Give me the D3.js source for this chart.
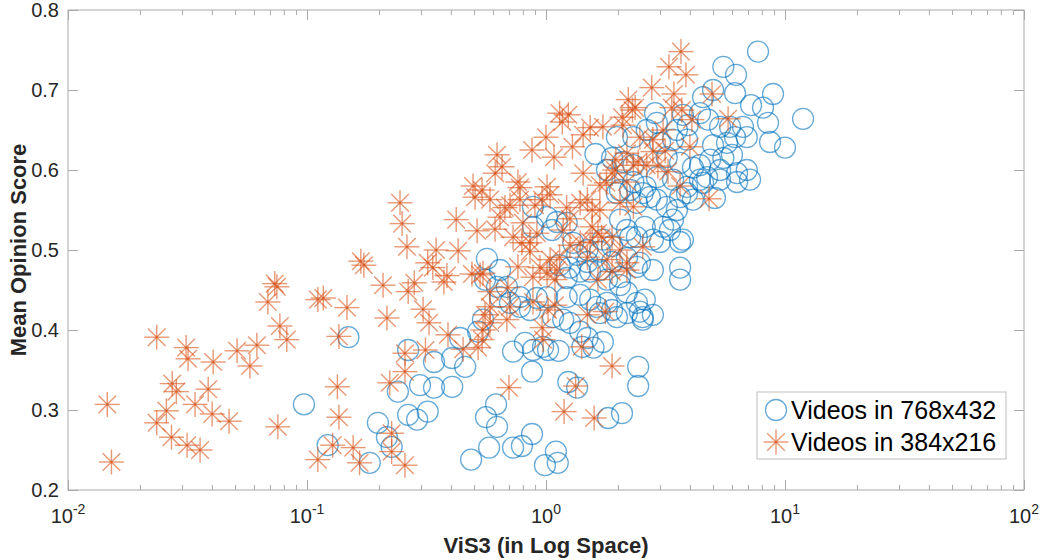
<!doctype html>
<html>
<head>
<meta charset="utf-8">
<title>ViS3 vs Mean Opinion Score</title>
<script src="https://cdnjs.cloudflare.com/ajax/libs/d3/7.8.5/d3.min.js"></script>
<style>
  body { margin: 0; background: #fff; }
  text { font-family: "Liberation Sans", Arial, Helvetica, sans-serif; fill: #262626; }
</style>
</head>
<body>
<svg id="chart" width="1048" height="560"></svg>
<script>
// [ViS3, MOS]
var videos768 = [
  [0.149,0.391],[0.0971,0.307],[0.122,0.256],
  [0.265,0.375],[0.340,0.360],[0.405,0.365],[0.459,0.354],[0.437,0.390],[0.240,0.323],[0.297,0.331],
  [0.340,0.328],[0.405,0.329],[0.265,0.294],[0.289,0.288],[0.320,0.298],[0.198,0.284],[0.216,0.266],
  [0.226,0.254],[0.183,0.234],[0.486,0.238],
  [1.98,0.641],[2.32,0.641],[1.61,0.620],[1.89,0.615],[2.10,0.610],[1.80,0.600],[2.32,0.606],[2.32,0.585],[2.04,0.575],
  [7.71,0.748],[5.52,0.729],[6.24,0.719],[8.91,0.695],[5.00,0.700],[6.18,0.696],[7.21,0.681],[8.09,0.678],
  [11.9,0.664],[8.49,0.659],[10.0,0.628],[8.66,0.635],[4.54,0.691],[4.41,0.671],[4.77,0.663],[5.35,0.654],
  [5.89,0.654],[6.67,0.654],[6.92,0.641],[6.18,0.641],[5.00,0.631],[5.72,0.634],[6.00,0.619],[5.52,0.615],
  [4.86,0.613],[4.41,0.606],[5.35,0.600],[6.30,0.596],[6.92,0.600],[4.12,0.603],[4.72,0.591],[3.92,0.656],
  [3.74,0.669],[3.53,0.650],[2.86,0.671],[2.91,0.659],[3.00,0.634],[3.20,0.616],[2.91,0.591],[3.89,0.638],
  [3.40,0.638],[3.64,0.609],[3.40,0.588],[3.89,0.579],[4.41,0.588],[2.64,0.650],[2.61,0.579],
  [0.566,0.489],[0.642,0.475],[0.556,0.463],[0.624,0.454],[0.642,0.441],[0.686,0.454],[0.778,0.441],
  [0.882,0.554],[1.01,0.541],[1.11,0.535],[1.22,0.534],[1.06,0.525],[0.882,0.529],[1.14,0.481],[1.26,0.478],
  [1.39,0.473],[1.53,0.473],[1.49,0.485],[1.35,0.494],[1.30,0.509],[1.49,0.500],[1.73,0.513],[1.89,0.505],
  [1.68,0.498],[1.89,0.485],[2.18,0.490],[2.40,0.479],[2.04,0.466],[1.80,0.463],[1.68,0.475],[2.18,0.525],
  [2.40,0.516],[2.59,0.529],[2.04,0.538],[2.25,0.516],[2.40,0.559],[2.25,0.575],[2.54,0.571],[1.98,0.571],
  [1.39,0.444],[1.53,0.438],[1.22,0.441],[1.22,0.465],[1.68,0.421],[1.89,0.425],[2.18,0.421],[2.47,0.423],
  [1.80,0.434],[1.63,0.429],[2.40,0.434],[2.04,0.456],[2.18,0.447],[0.916,0.440],[0.857,0.425],[0.778,0.429],
  [0.707,0.434],[1.01,0.441],[1.07,0.416],[1.18,0.413],[1.26,0.409],[1.39,0.398],[0.545,0.413],[0.520,0.398],
  [1.98,0.416],
  [3.64,0.478],[3.64,0.463],[2.59,0.438],[2.80,0.419],[2.54,0.416],[2.80,0.475],[2.47,0.484],[3.40,0.538],
  [3.64,0.510],[3.30,0.525],[3.09,0.529],[2.80,0.513],[3.00,0.510],[3.74,0.513],[3.53,0.550],[3.20,0.554],
  [2.91,0.563],[2.72,0.566],[3.64,0.566],[4.12,0.563],[3.89,0.571],[5.09,0.565],[6.30,0.585],[7.14,0.588],
  [5.35,0.588],[4.54,0.584],
  [0.728,0.373],[0.874,0.348],[0.882,0.375],[1.02,0.375],[1.13,0.374],[1.24,0.335],[1.35,0.328],[2.43,0.354],
  [2.43,0.330],[1.82,0.290],[2.08,0.296],[0.618,0.307],[0.561,0.291],[0.624,0.279],[0.578,0.253],[0.728,0.253],
  [0.793,0.255],[0.874,0.270],[0.990,0.231],[1.10,0.248],[1.12,0.234],[1.42,0.379],[1.58,0.378],[1.73,0.385],
  [1.49,0.390],[2.54,0.413],[0.817,0.384],[0.972,0.379]
];

var videos384 = [
  [0.0146,0.307],[0.0152,0.235],[0.0235,0.391],[0.0312,0.378],[0.0318,0.364],[0.0405,0.360],[0.0510,0.374],
  [0.0617,0.381],[0.0577,0.355],[0.0733,0.458],[0.0748,0.454],[0.0686,0.435],[0.0770,0.405],[0.0823,0.388],
  [0.111,0.438],[0.117,0.440],[0.147,0.428],[0.136,0.392],[0.134,0.329],[0.136,0.291],[0.111,0.238],
  [0.128,0.256],[0.156,0.253],[0.168,0.486],[0.173,0.481],[0.0273,0.333],[0.0284,0.323],[0.0258,0.299],
  [0.0386,0.326],[0.0340,0.307],[0.0401,0.295],[0.0472,0.286],[0.0235,0.284],[0.0271,0.266],[0.0315,0.256],
  [0.0357,0.250],[0.0755,0.279],
  [0.495,0.580],[0.505,0.566],[0.245,0.559],[0.250,0.533],[0.262,0.504],[0.421,0.538],[0.515,0.524],
  [0.347,0.500],[0.429,0.499],[0.320,0.484],[0.336,0.478],[0.385,0.468],[0.374,0.460],[0.490,0.470],
  [0.530,0.469],[0.208,0.456],[0.281,0.459],[0.265,0.448],[0.306,0.426],[0.324,0.409],[0.216,0.415],
  [0.389,0.394],[0.450,0.376],[0.520,0.378],[0.540,0.388],[0.313,0.375],[0.257,0.371],[0.257,0.348],
  [0.222,0.334],[0.226,0.271],[0.226,0.248],[0.257,0.231],[0.166,0.234],
  [2.21,0.688],[2.30,0.675],[2.36,0.678],[1.14,0.671],[1.24,0.669],[1.17,0.660],[1.53,0.653],[1.73,0.654],
  [1.43,0.644],[2.10,0.656],[2.08,0.666],[1.00,0.641],[0.874,0.625],[1.08,0.616],[1.29,0.629],[1.43,0.596],
  [1.68,0.581],[1.01,0.579],[0.778,0.578],[2.47,0.641],[2.43,0.610],[2.18,0.621],[2.32,0.606],[1.94,0.600],
  [0.624,0.619],[0.655,0.604],[0.613,0.596],[0.763,0.585],[1.96,0.613],[1.89,0.596],[1.79,0.584],
  [3.67,0.748],[3.27,0.729],[3.85,0.719],[2.77,0.703],[3.43,0.695],[4.95,0.695],[5.78,0.664],[3.36,0.678],
  [3.70,0.675],[4.08,0.663],[4.00,0.629],[3.15,0.624],[3.09,0.650],[3.24,0.598],[2.80,0.638],[2.80,0.623],
  [2.94,0.605],[3.64,0.580],[2.64,0.606],
  [0.540,0.575],[0.583,0.563],[0.673,0.553],[0.707,0.556],[0.642,0.541],[0.612,0.526],[0.728,0.516],
  [0.793,0.509],[0.778,0.563],[0.801,0.534],[0.899,0.556],[0.963,0.563],[1.04,0.569],[1.22,0.553],
  [1.39,0.559],[1.49,0.563],[1.56,0.550],[1.26,0.539],[1.68,0.550],[2.04,0.559],[2.32,0.554],[2.18,0.585],
  [1.56,0.529],[1.65,0.521],[1.71,0.516],[1.53,0.510],[1.89,0.516],[2.04,0.500],[2.54,0.504],[1.18,0.525],
  [1.26,0.506],[1.39,0.509],[0.916,0.521],[0.857,0.509],[0.857,0.498],[1.14,0.491],[1.04,0.488],[0.944,0.478],
  [0.882,0.466],[0.763,0.479],[1.01,0.471],[1.09,0.463],[1.11,0.475],[1.49,0.491],[1.80,0.488],[2.18,0.484],
  [1.65,0.463],[1.89,0.473],[2.18,0.475],[0.545,0.471],[0.583,0.448],[0.693,0.453],[0.556,0.419],[0.583,0.429],
  [0.686,0.413],[0.583,0.409],[0.545,0.400],[0.707,0.429],[0.882,0.435],[1.02,0.425],[1.09,0.431],[0.963,0.403],
  [1.49,0.419],[1.77,0.423],
  [4.81,0.564],
  [0.700,0.328],[1.33,0.330],[1.19,0.298],[1.59,0.290],[1.89,0.355],[0.972,0.388],[1.41,0.379]
];

var xTickValues = [0.01, 0.1, 1, 10, 100];
var xTickExponents = ["-2", "-1", "0", "1", "2"];
var yTickValues = [0.2, 0.3, 0.4, 0.5, 0.6, 0.7, 0.8];
var seriesNames = ["Videos in 768x432", "Videos in 384x216"];

var blue = "#0072BD", orange = "#D95319", axisGray = "#a9a9a9";
var plot = {left: 68, right: 1024, top: 10, bottom: 490};

var svg = d3.select("#chart");

var x = d3.scaleLog().domain([0.01, 100]).range([plot.left, plot.right]);
var y = d3.scaleLinear().domain([0.2, 0.8]).range([plot.bottom, plot.top]);

// minor log ticks (2..9 in each decade)
var minorTicks = x.ticks().filter(function(d) {
  return xTickValues.indexOf(d) < 0;
});

function styleAxis(g) {
  g.select(".domain").remove();
  g.selectAll(".tick line").attr("stroke", axisGray);
  g.selectAll(".tick text").remove();
}

// ticks on all four sides, pointing inward
svg.append("g").attr("transform", "translate(0," + plot.bottom + ")")
  .call(d3.axisBottom(x).tickValues(xTickValues).tickSize(-10)).call(styleAxis);
svg.append("g").attr("transform", "translate(0," + plot.bottom + ")")
  .call(d3.axisBottom(x).tickValues(minorTicks).tickSize(-5)).call(styleAxis);
svg.append("g").attr("transform", "translate(0," + plot.top + ")")
  .call(d3.axisTop(x).tickValues(xTickValues).tickSize(-10)).call(styleAxis);
svg.append("g").attr("transform", "translate(0," + plot.top + ")")
  .call(d3.axisTop(x).tickValues(minorTicks).tickSize(-5)).call(styleAxis);
svg.append("g").attr("transform", "translate(" + plot.left + ",0)")
  .call(d3.axisLeft(y).tickValues(yTickValues).tickSize(-10)).call(styleAxis);
svg.append("g").attr("transform", "translate(" + plot.right + ",0)")
  .call(d3.axisRight(y).tickValues(yTickValues).tickSize(-10)).call(styleAxis);

svg.append("rect")
  .attr("x", plot.left).attr("y", plot.top)
  .attr("width", plot.right - plot.left).attr("height", plot.bottom - plot.top)
  .attr("fill", "none").attr("stroke", axisGray);

// tick labels
svg.selectAll(".ylab").data(yTickValues).join("text")
  .attr("class", "ylab")
  .attr("x", plot.left - 9)
  .attr("y", function(d) { return y(d) + 7; })
  .attr("text-anchor", "end")
  .style("font-size", "20px")
  .text(function(d) { return d3.format(".1f")(d); });

var xl = svg.selectAll(".xlab").data(xTickValues).join("text")
  .attr("class", "xlab")
  .attr("x", function(d) { return x(d); })
  .attr("y", 523)
  .attr("text-anchor", "middle")
  .style("font-size", "20px");
xl.append("tspan").text("10");
xl.append("tspan")
  .attr("dy", -9)
  .style("font-size", "14px")
  .text(function(d, i) { return xTickExponents[i]; });

// axis titles
svg.append("text")
  .attr("x", (plot.left + plot.right) / 2).attr("y", 553)
  .attr("text-anchor", "middle")
  .style("font-size", "22px").style("font-weight", "bold")
  .text("ViS3 (in Log Space)");

svg.append("text")
  .attr("transform", "translate(26," + ((plot.top + plot.bottom) / 2) + ") rotate(-90)")
  .attr("text-anchor", "middle")
  .style("font-size", "22px").style("font-weight", "bold")
  .text("Mean Opinion Score");

// star marker (plus + cross), drawn as separate lines so the centre darkens
var starArms = [[-12.5, 0, 12.5, 0], [0, -12.5, 0, 12.5], [-8.8, -8.8, 8.8, 8.8], [-8.8, 8.8, 8.8, -8.8]];
function drawStar(g) {
  g.selectAll("line").data(starArms).join("line")
    .attr("x1", function(a) { return a[0]; }).attr("y1", function(a) { return a[1]; })
    .attr("x2", function(a) { return a[2]; }).attr("y2", function(a) { return a[3]; })
    .attr("stroke", orange).attr("stroke-width", 1.4).attr("stroke-opacity", 0.6);
}

var marks = svg.append("g");

marks.selectAll(".c768").data(videos768).join("circle")
  .attr("class", "c768")
  .attr("cx", function(d) { return x(d[0]); })
  .attr("cy", function(d) { return y(d[1]); })
  .attr("r", 10.5)
  .attr("fill", "none")
  .attr("stroke", blue).attr("stroke-width", 1.3).attr("stroke-opacity", 0.6);

marks.selectAll(".s384").data(videos384).join("g")
  .attr("class", "s384")
  .attr("transform", function(d) { return "translate(" + x(d[0]) + "," + y(d[1]) + ")"; })
  .each(function() { drawStar(d3.select(this)); });

// legend
var legend = svg.append("g").attr("transform", "translate(757,392)");
legend.append("rect")
  .attr("width", 249).attr("height", 67)
  .attr("fill", "#fff").attr("stroke", "#bdbdbd");
legend.append("circle")
  .attr("cx", 19).attr("cy", 18).attr("r", 10.5)
  .attr("fill", "none").attr("stroke", blue).attr("stroke-width", 1.3).attr("stroke-opacity", 0.6);
legend.append("g").attr("transform", "translate(19,50)").call(drawStar);
legend.selectAll(".leg").data(seriesNames).join("text")
  .attr("class", "leg")
  .attr("x", 34)
  .attr("y", function(d, i) { return 27 + i * 32; })
  .style("font-size", "25px")
  .style("fill", "#000")
  .text(function(d) { return d; });
</script>
</body>
</html>
